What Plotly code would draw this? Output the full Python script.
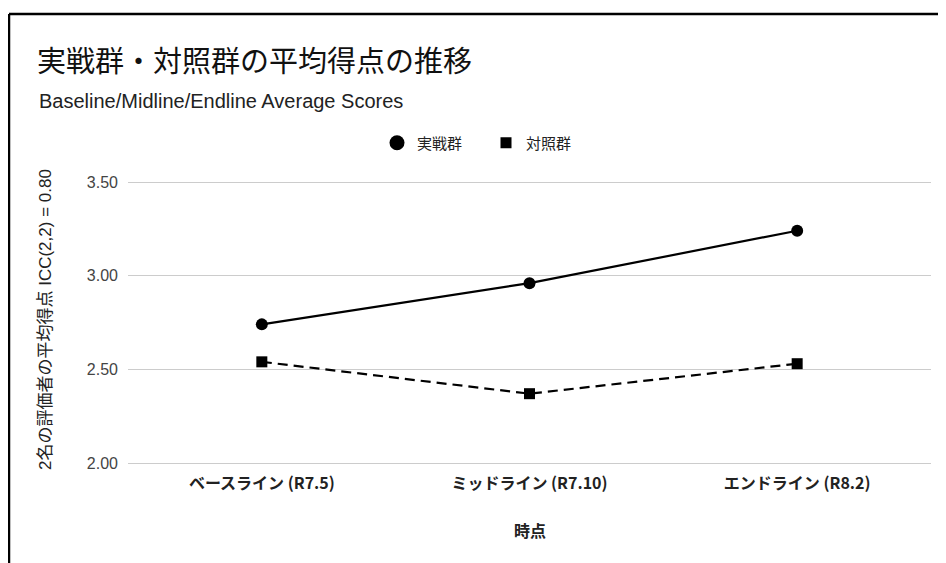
import plotly.graph_objects as go

categories = ["ベースライン (R7.5)", "ミッドライン (R7.10)", "エンドライン (R8.2)"]
practice_scores = [2.74, 2.96, 3.24]
control_scores = [2.54, 2.37, 2.53]
series_names = ["実戦群", "対照群"]
y_ticks = [2.0, 2.5, 3.0, 3.5]
y_tick_labels = ["2.00", "2.50", "3.00", "3.50"]

FONT = "Arial, 'Liberation Sans', 'Noto Sans CJK JP', sans-serif"
JP = "'Noto Sans CJK JP', sans-serif"

OFF = 8  # page body margin
PAD = 3  # px of extra range beyond the end gridlines
W, H = 946 - OFF, 563 - OFF
L, R, T, B = 128 - OFF, 15, 182 - OFF - PAD, 100 - PAD
pw, ph = W - L - R, H - T - B
y_pad = PAD * 1.5 / (ph - 2 * PAD)

def px_x(rx):
    return (rx - OFF - L) / pw

def px_y(ry):
    return (H - B - (ry - OFF)) / ph

fig = go.Figure()

fig.add_trace(go.Scatter(
    x=categories, y=practice_scores, mode="lines+markers", name=series_names[0],
    line=dict(color="black", width=2.2),
    marker=dict(symbol="circle", size=12, color="black"),
    showlegend=False,
))
fig.add_trace(go.Scatter(
    x=categories, y=control_scores, mode="lines+markers", name=series_names[1],
    line=dict(color="black", width=2.2, dash="10px,6px"),
    marker=dict(symbol="square", size=11, color="black"),
    showlegend=False,
))
# legend entries (markers only)
fig.add_trace(go.Scatter(
    x=[None], y=[None], mode="markers", name=series_names[0],
    marker=dict(symbol="circle", size=15, color="black"),
))
fig.add_trace(go.Scatter(
    x=[None], y=[None], mode="markers", name=series_names[1],
    marker=dict(symbol="square", size=11, color="black"),
))

fig.update_layout(
    width=W, height=H,
    margin=dict(l=L, r=R, t=T, b=B, autoexpand=False),
    paper_bgcolor="white", plot_bgcolor="white",
    font=dict(family=FONT, color="#222222"),
    title=dict(
        text="実戦群・対照群の平均得点の推移",
        font=dict(size=29, color="#111111", family=JP),
        xref="container", yref="container",
        x=(37 - OFF) / W, xanchor="left", y=1 - (62 - OFF) / H, yanchor="middle",
    ),
    legend=dict(
        orientation="h", xref="container", yref="container",
        x=(486 - OFF) / W, xanchor="center", y=1 - (143 - OFF) / H, yanchor="middle",
        font=dict(size=15, color="#222222", family=JP),
        itemsizing="trace", entrywidth=64, entrywidthmode="pixels",
    ),
    xaxis=dict(
        showgrid=False, zeroline=False, showline=False,
        range=[-0.5, 2.5], ticks="",
        tickfont=dict(size=16, color="#222222", family=JP, weight="bold"),
        ticklabelstandoff=6,
    ),
    yaxis=dict(
        range=[2.0 - y_pad, 3.5 + y_pad], tickvals=y_ticks, ticktext=y_tick_labels,
        showgrid=True, gridcolor="#cccccc", gridwidth=1,
        zeroline=False, showline=False, ticks="",
        tickfont=dict(size=16, color="#444444"),
        ticklabelstandoff=9,
    ),
    annotations=[
        dict(text="Baseline/Midline/Endline Average Scores", xref="paper", yref="paper",
             x=px_x(37), y=px_y(101), xanchor="left", yanchor="middle", showarrow=False,
             font=dict(size=20, color="#222222")),
        dict(text="2名の評価者の平均得点 ICC(2,2) = 0.80", xref="paper", yref="paper",
             x=px_x(45), y=px_y(320), xanchor="center", yanchor="middle", showarrow=False,
             textangle=-90, font=dict(size=17, color="#222222")),
        dict(text="<b>時点</b>", xref="paper", yref="paper",
             x=0.5, y=px_y(530), xanchor="center", yanchor="middle", showarrow=False,
             font=dict(size=16, color="#222222", family=JP)),
    ],
    shapes=[
        dict(type="line", xref="paper", yref="paper", x0=px_x(9), x1=px_x(980),
             y0=px_y(14), y1=px_y(14), line=dict(color="black", width=2.5)),
        dict(type="line", xref="paper", yref="paper", x0=px_x(9), x1=px_x(9),
             y0=px_y(14), y1=px_y(600), line=dict(color="black", width=2.5)),
    ],
)

fig.write_html("out.html")
